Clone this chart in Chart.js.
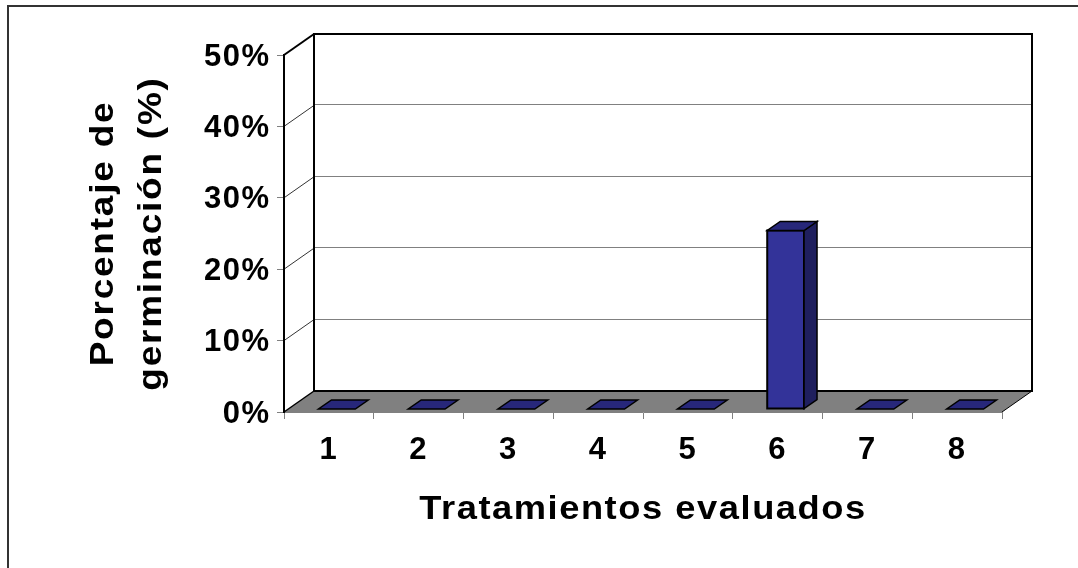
<!DOCTYPE html>
<html>
<head>
<meta charset="utf-8">
<script src="https://cdn.jsdelivr.net/npm/chart.js@4.4.1/dist/chart.umd.min.js"></script>
<style>
  html, body { margin: 0; padding: 0; background: #ffffff; }
  #wrap { width: 1078px; height: 568px; }
</style>
</head>
<body>
<div id="wrap"><canvas id="chart" width="1078" height="568"></canvas></div>
<script>
// Germination per treatment (fraction of seeds)
const categories = ['1', '2', '3', '4', '5', '6', '7', '8'];
const germination = [0, 0, 0, 0, 0, 0.25, 0, 0];
const yTickValues = [0, 0.1, 0.2, 0.3, 0.4, 0.5];
const yTitleLines = ['Porcentaje de', 'germinación (%)'];
const xTitleText = 'Tratamientos evaluados';

const FONT = "'Liberation Sans', Arial, Helvetica, sans-serif";

// oblique projection of the plot box and of each bar
const WALL_DEPTH = { dx: 30, dy: -21 };
const BAR_SHIFT = { dx: 8, dy: -3 };
const BAR_DEPTH = { dx: 13, dy: -9 };

// wide lettering: titles are stretched along the reading direction and spaced a little
const TEXT_STYLE = {
  x: { title: '1.4px', stretch: 1.1, labels: '1.5px' },
  y: { title: '1.6px', stretch: 1.12, labels: '1.5px' }
};

const COLORS = {
  frame: '#333333',
  wallEdge: '#000000',
  grid: '#808080',
  sideGrid: '#333333',
  floor: '#808080',
  barFront: '#333399',
  barTop: '#27277a',
  barSide: '#1f1f5e',
  barEdge: '#000000'
};

function poly(ctx, pts, fill, stroke, lw) {
  ctx.beginPath();
  ctx.moveTo(pts[0][0], pts[0][1]);
  for (let i = 1; i < pts.length; i++) ctx.lineTo(pts[i][0], pts[i][1]);
  ctx.closePath();
  if (fill) { ctx.fillStyle = fill; ctx.fill(); }
  if (stroke) { ctx.strokeStyle = stroke; ctx.lineWidth = lw; ctx.stroke(); }
}

function line(ctx, x1, y1, x2, y2, color, lw) {
  ctx.beginPath();
  ctx.moveTo(x1, y1);
  ctx.lineTo(x2, y2);
  ctx.strokeStyle = color;
  ctx.lineWidth = lw;
  ctx.stroke();
}

// wraps each scale's own title and label drawing with the lettering style
const letteringPlugin = {
  id: 'lettering',
  afterUpdate(chart) {
    Object.values(chart.scales).forEach(scale => {
      const st = TEXT_STYLE[scale.id];
      if (!st || scale._letteringPatched) return;
      const drawTitle = scale.drawTitle;
      const drawLabels = scale.drawLabels;
      scale.drawTitle = function (...args) {
        const c = this.ctx;
        c.save();
        c.letterSpacing = st.title;
        if (this.isHorizontal()) {
          const cx = (this.left + this.right) / 2;
          c.translate(cx, 0); c.scale(st.stretch, 1); c.translate(-cx, 0);
        } else {
          const cy = (this.top + this.bottom) / 2;
          c.translate(0, cy); c.scale(1, st.stretch); c.translate(0, -cy);
        }
        drawTitle.apply(this, args);
        c.restore();
      };
      scale.drawLabels = function (...args) {
        const c = this.ctx;
        c.save();
        c.letterSpacing = st.labels;
        drawLabels.apply(this, args);
        c.restore();
      };
      scale._letteringPatched = true;
    });
  }
};

// walls, floor and gridlines behind the bars, then the 3D bars themselves
const boxPlugin = {
  id: 'box3d',
  beforeDraw(chart) {
    const { ctx, chartArea: a, scales: { y } } = chart;
    const { dx, dy } = WALL_DEPTH;
    const bl = a.left + dx, br = a.right + dx, bt = a.top + dy, bb = a.bottom + dy;
    ctx.save();

    // outer frame
    ctx.beginPath();
    ctx.moveTo(8, 570); ctx.lineTo(8, 6); ctx.lineTo(1080, 6);
    ctx.strokeStyle = COLORS.frame; ctx.lineWidth = 2; ctx.stroke();

    // back wall
    ctx.fillStyle = '#ffffff';
    ctx.fillRect(bl, bt, br - bl, bb - bt);

    // gridlines on back wall and side wall
    yTickValues.forEach(v => {
      if (v <= y.min || v >= y.max) return;
      const yf = y.getPixelForValue(v);
      line(ctx, bl, Math.round(yf + dy) - 0.5, br, Math.round(yf + dy) - 0.5, COLORS.grid, 1);
      line(ctx, a.left, yf, bl, yf + dy, COLORS.sideGrid, 1);
    });

    // floor
    poly(ctx, [[a.left, a.bottom], [a.right, a.bottom], [br, bb], [bl, bb]], COLORS.floor, null, 0);
    line(ctx, a.left, a.bottom, bl, bb, COLORS.wallEdge, 1.5);
    line(ctx, a.right, a.bottom, br, bb, COLORS.wallEdge, 1);

    // side wall top edge
    line(ctx, a.left, a.top, bl, bt, COLORS.wallEdge, 2);

    // back wall outline
    ctx.strokeStyle = COLORS.wallEdge;
    ctx.lineWidth = 2;
    ctx.strokeRect(bl, bt, br - bl, bb - bt);
    ctx.restore();
  },
  afterDatasetsDraw(chart) {
    const { ctx } = chart;
    const meta = chart.getDatasetMeta(0);
    ctx.save();
    ctx.lineJoin = 'miter';
    meta.data.forEach(el => {
      const p = el.getProps(['x', 'y', 'base', 'width'], true);
      const l = p.x - p.width / 2 + BAR_SHIFT.dx;
      const r = p.x + p.width / 2 + BAR_SHIFT.dx;
      const t = p.y + BAR_SHIFT.dy;
      const b = p.base + BAR_SHIFT.dy;
      const { dx, dy } = BAR_DEPTH;
      if (b - t > 0.5) {
        poly(ctx, [[l, t], [r, t], [r, b], [l, b]], COLORS.barFront, COLORS.barEdge, 2);
        poly(ctx, [[r, t], [r + dx, t + dy], [r + dx, b + dy], [r, b]], COLORS.barSide, COLORS.barEdge, 1.5);
      }
      poly(ctx, [[l, t], [r, t], [r + dx, t + dy], [l + dx, t + dy]], COLORS.barTop, COLORS.barEdge, 1.5);
    });
    ctx.restore();
  }
};

new Chart(document.getElementById('chart'), {
  type: 'bar',
  data: {
    labels: categories,
    datasets: [{
      data: germination,
      backgroundColor: 'rgba(0,0,0,0)',
      borderWidth: 0,
      categoryPercentage: 1,
      barPercentage: 0.41
    }]
  },
  options: {
    responsive: false,
    animation: false,
    devicePixelRatio: 1,
    events: [],
    layout: { padding: { left: 0, top: 55, right: 76, bottom: 0 } },
    plugins: { legend: { display: false }, tooltip: { enabled: false } },
    scales: {
      x: {
        offset: true,
        grid: { drawOnChartArea: false, drawTicks: true, tickLength: 7, color: COLORS.grid, offset: true },
        border: { display: true, color: COLORS.grid, width: 1 },
        ticks: { color: '#000', padding: 13, font: { family: FONT, size: 31, weight: 'bold' } },
        title: {
          display: true,
          text: xTitleText,
          color: '#000',
          font: { family: FONT, size: 33, weight: 'bold', lineHeight: 1.2 },
          padding: { top: 0, bottom: 38 }
        },
        afterFit(scale) { scale.height = 156; }
      },
      y: {
        min: 0,
        max: 0.5,
        afterBuildTicks(scale) { scale.ticks = yTickValues.map(v => ({ value: v })); },
        grid: { drawOnChartArea: false, drawTicks: true, tickLength: 7, color: COLORS.grid },
        border: { display: true, color: '#000', width: 2 },
        ticks: {
          color: '#000',
          padding: 6.5,
          labelOffset: 2,
          font: { family: FONT, size: 31, weight: 'bold' },
          callback: v => Math.round(v * 100) + '%'
        },
        title: {
          display: true,
          text: yTitleLines,
          color: '#000',
          font: { family: FONT, size: 33, weight: 'bold', lineHeight: 1.48 },
          padding: { top: 79, bottom: 0 }
        },
        afterFit(scale) { scale.width = 284; }
      }
    }
  },
  plugins: [letteringPlugin, boxPlugin]
});
</script>
</body>
</html>
